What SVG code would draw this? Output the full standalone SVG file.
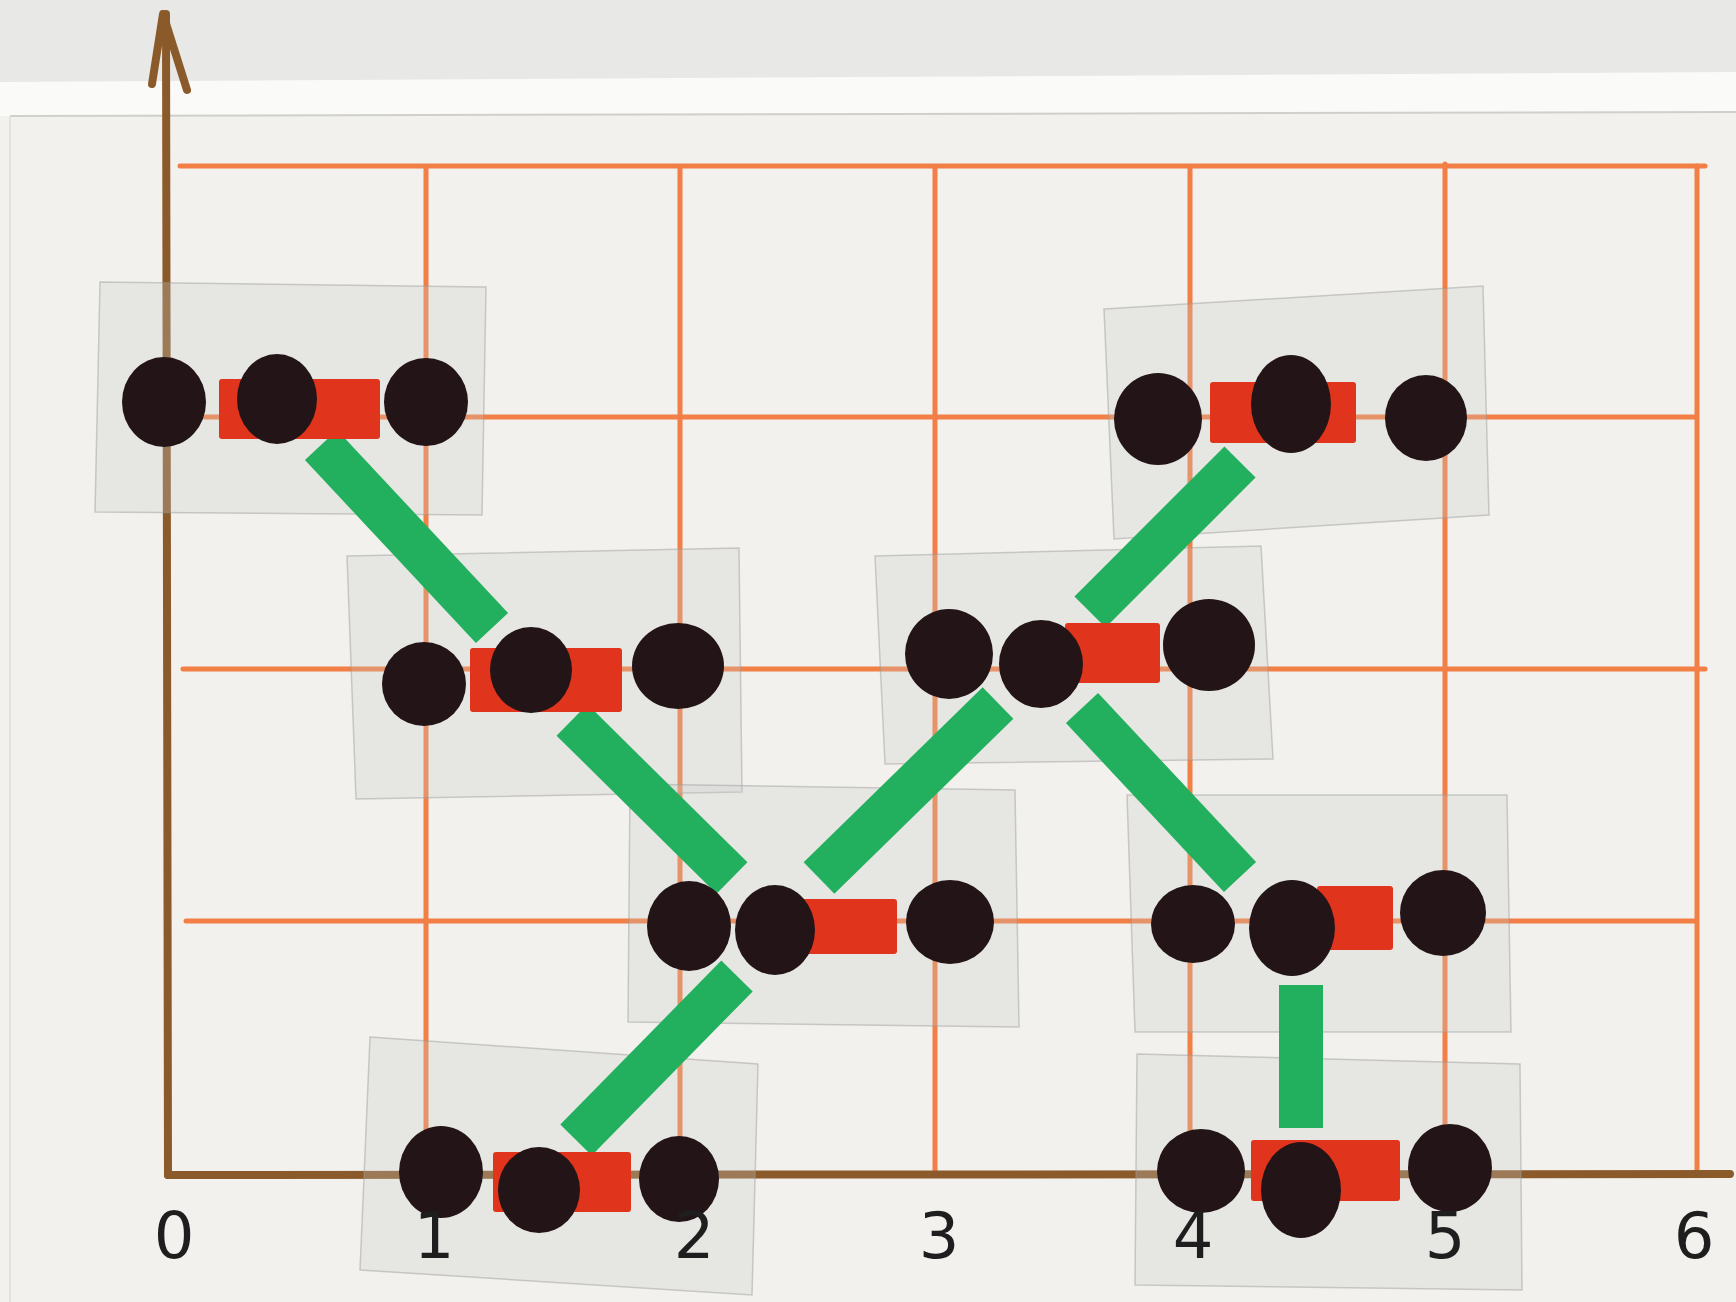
<svg xmlns="http://www.w3.org/2000/svg" width="1736" height="1302" viewBox="0 0 1736 1302">
<style>
.grid{stroke:#f27f45;stroke-width:5;fill:none;stroke-linecap:round}
.axis{stroke:#8b5a2b;stroke-width:8;fill:none;stroke-linecap:round}
.tile{fill:#c8c8c8;fill-opacity:0.28;stroke:#9a9a9a;stroke-opacity:0.45;stroke-width:1.5}
.tube{stroke:#22b05e;stroke-width:44;stroke-linecap:butt}
.red{fill:#e0341c}
.dot{fill:#231517}
.lbl{font-family:"DejaVu Sans","Liberation Sans",sans-serif;font-size:64px;fill:#1e1e1e;text-anchor:middle}
</style>
<rect x="0" y="0" width="1736" height="1302" fill="#f2f1ed"/>
<rect x="0" y="0" width="1736" height="82" fill="#e8e8e6"/>
<polygon points="0,82 1736,72 1736,112 0,116" fill="#fafaf9"/>
<line x1="10" y1="116" x2="1736" y2="112" stroke="#cfcfcc" stroke-width="2"/>
<line x1="10" y1="116" x2="10" y2="1302" stroke="#e2e2df" stroke-width="2"/>
<g id="grid">
<line class="grid" x1="180" y1="166" x2="1705" y2="166"/>
<line class="grid" x1="205" y1="417" x2="1694" y2="417"/>
<line class="grid" x1="183" y1="669" x2="1705" y2="669"/>
<line class="grid" x1="186" y1="921" x2="1694" y2="921"/>
<line class="grid" x1="426" y1="168" x2="426" y2="1172"/>
<line class="grid" x1="680" y1="168" x2="680" y2="1172"/>
<line class="grid" x1="935" y1="168" x2="935" y2="1172"/>
<line class="grid" x1="1190" y1="168" x2="1190" y2="1172"/>
<line class="grid" x1="1445" y1="164" x2="1445" y2="1172"/>
<line class="grid" x1="1697" y1="166" x2="1697" y2="1172"/>
</g>
<g id="axes">
<line class="axis" x1="166" y1="14" x2="168" y2="1175"/>
<line class="axis" x1="168" y1="1175" x2="1730" y2="1174"/>
<path class="axis" d="M152,84 L163,14 L187,90" stroke-linejoin="round" stroke="#3d2418" stroke-width="7"/>
</g>
<g id="tiles">
<polygon class="tile" points="100,282 486,287 482,515 95,512"/>
<polygon class="tile" points="347,556 739,548 742,792 356,799"/>
<polygon class="tile" points="1104,309 1483,286 1489,515 1114,539"/>
<polygon class="tile" points="875,556 1261,546 1273,759 885,764"/>
<polygon class="tile" points="630,784 1015,790 1019,1027 628,1022"/>
<polygon class="tile" points="1127,795 1507,795 1511,1032 1135,1032"/>
<polygon class="tile" points="370,1037 758,1064 752,1295 360,1270"/>
<polygon class="tile" points="1137,1054 1520,1064 1522,1290 1135,1285"/>
</g>
<g id="connectors">
<line class="tube" x1="321" y1="445" x2="492" y2="628"/>
<line class="tube" x1="572" y1="720" x2="732" y2="878"/>
<line class="tube" x1="998" y1="703" x2="819" y2="878"/>
<line class="tube" x1="1090" y1="612" x2="1240" y2="462"/>
<line class="tube" x1="1082" y1="708" x2="1240" y2="877"/>
<line class="tube" x1="737" y1="976" x2="576" y2="1140"/>
<line class="tube" x1="1301" y1="985" x2="1301" y2="1128"/>
</g>
<g id="m1">
<rect class="red" x="219" y="379" width="161" height="60" rx="3"/>
<ellipse class="dot" cx="164" cy="402" rx="42" ry="45"/>
<ellipse class="dot" cx="277" cy="399" rx="40" ry="45"/>
<ellipse class="dot" cx="426" cy="402" rx="42" ry="44"/>
</g>
<g id="m2">
<rect class="red" x="470" y="648" width="152" height="64" rx="3"/>
<ellipse class="dot" cx="424" cy="684" rx="42" ry="42"/>
<ellipse class="dot" cx="531" cy="670" rx="41" ry="43"/>
<ellipse class="dot" cx="678" cy="666" rx="46" ry="43"/>
</g>
<g id="m3">
<rect class="red" x="1065" y="623" width="95" height="60" rx="3"/>
<ellipse class="dot" cx="949" cy="654" rx="44" ry="45"/>
<ellipse class="dot" cx="1041" cy="664" rx="42" ry="44"/>
<ellipse class="dot" cx="1209" cy="645" rx="46" ry="46"/>
</g>
<g id="m4">
<rect class="red" x="1210" y="382" width="146" height="61" rx="3"/>
<ellipse class="dot" cx="1158" cy="419" rx="44" ry="46"/>
<ellipse class="dot" cx="1291" cy="404" rx="40" ry="49"/>
<ellipse class="dot" cx="1426" cy="418" rx="41" ry="43"/>
</g>
<g id="m5">
<rect class="red" x="800" y="899" width="97" height="55" rx="3"/>
<ellipse class="dot" cx="689" cy="926" rx="42" ry="45"/>
<ellipse class="dot" cx="775" cy="930" rx="40" ry="45"/>
<ellipse class="dot" cx="950" cy="922" rx="44" ry="42"/>
</g>
<g id="m6">
<rect class="red" x="1317" y="886" width="76" height="64" rx="3"/>
<ellipse class="dot" cx="1193" cy="924" rx="42" ry="39"/>
<ellipse class="dot" cx="1292" cy="928" rx="43" ry="48"/>
<ellipse class="dot" cx="1443" cy="913" rx="43" ry="43"/>
</g>
<g id="m7">
<rect class="red" x="493" y="1152" width="138" height="60" rx="3"/>
<ellipse class="dot" cx="441" cy="1172" rx="42" ry="46"/>
<ellipse class="dot" cx="539" cy="1190" rx="41" ry="43"/>
<ellipse class="dot" cx="679" cy="1179" rx="40" ry="43"/>
</g>
<g id="m8">
<rect class="red" x="1251" y="1140" width="149" height="61" rx="3"/>
<ellipse class="dot" cx="1201" cy="1171" rx="44" ry="42"/>
<ellipse class="dot" cx="1301" cy="1190" rx="40" ry="48"/>
<ellipse class="dot" cx="1450" cy="1168" rx="42" ry="44"/>
</g>
<g id="labels">
<text class="lbl" x="174" y="1258">0</text>
<text class="lbl" x="434" y="1258">1</text>
<text class="lbl" x="694" y="1258">2</text>
<text class="lbl" x="939" y="1258">3</text>
<text class="lbl" x="1193" y="1258">4</text>
<text class="lbl" x="1445" y="1258">5</text>
<text class="lbl" x="1694" y="1258">6</text>
</g>
</svg>
